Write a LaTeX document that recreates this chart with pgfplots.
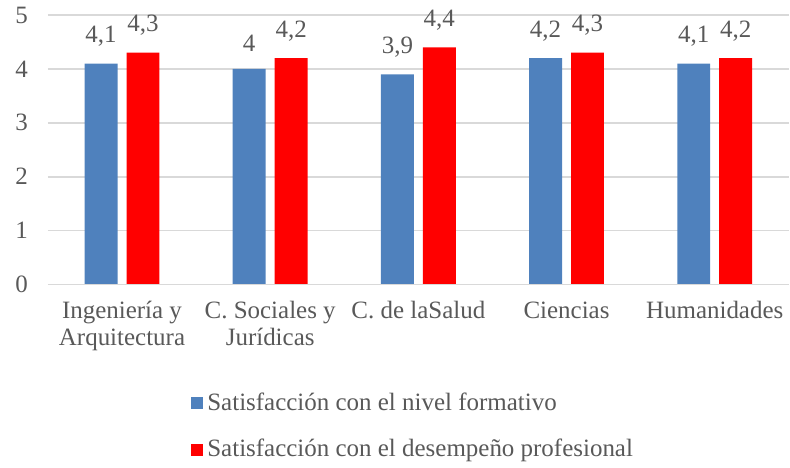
\documentclass[border=0pt]{standalone}
\usepackage{pgfplots}
\pgfplotsset{compat=1.18}
\usepackage{fontspec}
\setmainfont{Liberation Serif}
\definecolor{txt}{HTML}{595959}
\definecolor{gridc}{HTML}{D9D9D9}
\definecolor{cblue}{HTML}{4F81BD}
\definecolor{cred}{HTML}{FF0000}
\begin{document}
\begin{tikzpicture}
\begin{axis}[
  scale only axis,
  width=371pt, height=135pt,
  xmin=-0.5, xmax=4.5, ymin=0, ymax=5,
  ybar=4.5pt, bar width=16.5pt,
  axis line style={draw=none},
  ymajorgrids, grid style={gridc, line width=0.8pt},
  ytick={0,1,2,3,4,5},
  xtick={0,1,2,3,4},
  xticklabels={{Ingeniería y\\Arquitectura},{C. Sociales y\\Jurídicas},{C. de laSalud},{Ciencias},{Humanidades}},
  xticklabel style={align=center, font=\fontsize{12.5}{13.5}\selectfont, text=txt, yshift=-5pt},
  yticklabel style={font=\fontsize{12.5}{13}\selectfont, text=txt, xshift=-6.5pt},
  /pgf/number format/assume math mode=true,
  major tick length=0pt,
  nodes near coords,
  nodes near coords style={font=\fontsize{12.5}{13}\selectfont, text=txt, /pgf/number format/use comma, yshift=5pt},
  legend style={draw=none, at={(axis description cs:0.185,-0.37)}, anchor=north west, font=\fontsize{12.5}{13}\selectfont, text=txt, row sep=9pt},
  legend cell align=left,
  legend image code/.code={\fill[#1] (0pt,-3pt) rectangle (6pt,3pt);},
  clip=false,
]
\addplot[fill=cblue, draw=none] coordinates {(0,4.1) (1,4) (2,3.9) (3,4.2) (4,4.1)};
\addplot[fill=cred, draw=none] coordinates {(0,4.3) (1,4.2) (2,4.4) (3,4.3) (4,4.2)};
\draw[gridc, line width=0.8pt] (rel axis cs:0,0) -- (rel axis cs:1,0);
\legend{Satisfacción con el nivel formativo, Satisfacción con el desempeño profesional}
\end{axis}
\path ([xshift=-24pt,yshift=7.5pt]current axis.north west) rectangle ([yshift=-90pt]current axis.south east);
\end{tikzpicture}
\end{document}
